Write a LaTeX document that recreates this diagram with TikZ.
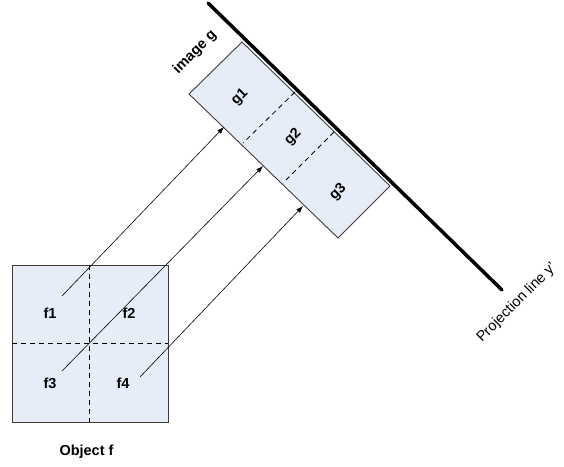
\documentclass[tikz,border=0pt]{standalone}
\usepackage{fontspec}
\setmainfont{Liberation Sans}
\usetikzlibrary{arrows.meta}
\definecolor{boxfill}{RGB}{231,237,248}
\definecolor{boxline}{RGB}{60,60,60}
\tikzset{
  cell/.style={fill=boxfill,draw=boxline,line width=0.9pt},
  divider/.style={draw=black,dashed,dash pattern=on 5pt off 4pt,line width=0.8pt},
  lbl/.style={font=\fontsize{14.5}{16}\selectfont\bfseries,inner sep=0pt},
  rlbl/.style={lbl,rotate=45},
  proj/.style={line width=3.5pt,line cap=round},
  ray/.style={line width=0.6pt,-{Latex[length=7pt,width=5pt]}}
}
\begin{document}
\begin{tikzpicture}[x=1pt,y=-1pt]
\useasboundingbox (0,0) rectangle (564,466);
% object square
\coordinate (sq1) at (12,265);
\coordinate (sq2) at (168,422);
\draw[cell] (sq1) rectangle (sq2);
\coordinate (vt) at (89,265); \coordinate (vb) at (89,422);
\coordinate (hl) at (12,343); \coordinate (hr) at (168,343);
\draw[divider] (vt) -- (vb);
\draw[divider] (hl) -- (hr);
\node[lbl] (f1) at (50,313) {f1};
\node[lbl] (f2) at (129,313) {f2};
\node[lbl] (f3) at (50,383) {f3};
\node[lbl] (f4) at (123,383) {f4};
\node[lbl,anchor=base] (obj) at (86.5,455) {Object f};
% projection line
\coordinate (p1) at (208,3);
\coordinate (p2) at (502,290);
\draw[proj] (p1) -- (p2);
% image box
\coordinate (T) at (242,42);
\coordinate (R) at (390,186);
\coordinate (B) at (338,238);
\coordinate (L) at (189,94);
\draw[cell] (T) -- (R) -- (B) -- (L) -- cycle;
\coordinate (d1t) at (295,92); \coordinate (d1b) at (243,143);
\coordinate (d2t) at (334,132); \coordinate (d2b) at (283,183);
\draw[divider] (d1t) -- (d1b);
\draw[divider] (d2t) -- (d2b);
\node[rlbl] (g1) at (240,97) {g1};
\node[rlbl] (g2) at (293,137) {g2};
\node[rlbl] (g3) at (338,192) {g3};
\node[rlbl] (img) at (195,52) {image g};
\node[font=\fontsize{14.5}{16}\selectfont,inner sep=0pt,rotate=45,anchor=base west] (plbl) at (482,343) {Projection line y'};
% rays
\coordinate (s1) at (62,296); \coordinate (e1) at (224,127);
\coordinate (s2) at (62,371); \coordinate (e2) at (263,166);
\coordinate (s3) at (140,377); \coordinate (e3) at (303,206);
\draw[ray] (s1) -- (e1);
\draw[ray] (s2) -- (e2);
\draw[ray] (s3) -- (e3);
\end{tikzpicture}
\end{document}
